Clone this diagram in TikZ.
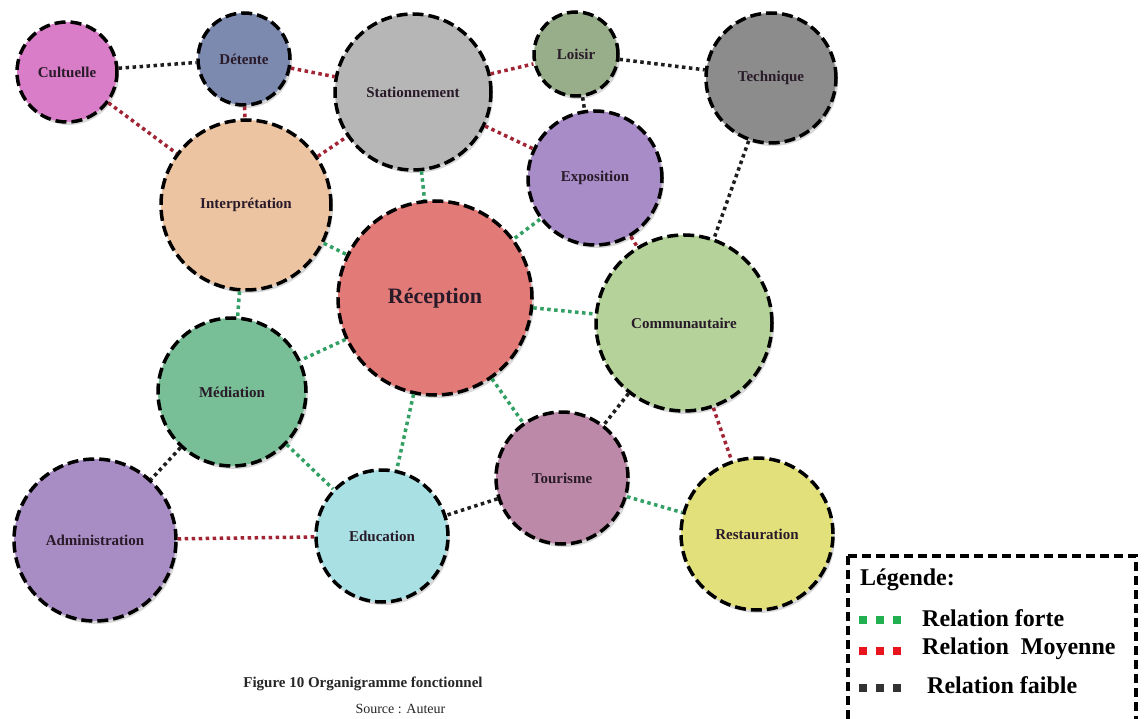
\documentclass[tikz,border=0pt]{standalone}
\usepackage{fontspec}
\setmainfont{Liberation Serif}
\usetikzlibrary{shadows}
\definecolor{cCult}{RGB}{218,125,200}
\definecolor{cDet}{RGB}{124,138,176}
\definecolor{cStat}{RGB}{182,182,182}
\definecolor{cLois}{RGB}{152,174,138}
\definecolor{cTech}{RGB}{140,140,140}
\definecolor{cExpo}{RGB}{168,140,200}
\definecolor{cInter}{RGB}{237,196,162}
\definecolor{cRecep}{RGB}{226,122,120}
\definecolor{cComm}{RGB}{180,210,154}
\definecolor{cMed}{RGB}{120,190,150}
\definecolor{cTour}{RGB}{188,138,168}
\definecolor{cRest}{RGB}{226,224,122}
\definecolor{cEdu}{RGB}{168,224,228}
\definecolor{cAdm}{RGB}{168,140,196}
\definecolor{lGreen}{RGB}{50,160,100}
\definecolor{lRed}{RGB}{160,36,52}
\definecolor{lBlack}{RGB}{30,30,30}
\definecolor{txt}{RGB}{40,26,40}
\definecolor{legGreen}{RGB}{34,176,80}
\definecolor{legRed}{RGB}{232,20,30}
\definecolor{legBlack}{RGB}{50,50,50}
\tikzset{
  bubble/.style={circle, draw=black, line width=3.5pt, dash pattern=on 11pt off 5pt,
    inner sep=0pt, text=txt, font=\bfseries\fontsize{15}{17}\selectfont,
    drop shadow={shadow xshift=2pt, shadow yshift=-3pt, opacity=0.3}},
  link/.style={line width=3.5pt, dash pattern=on 3.5pt off 3.5pt},
  strong/.style={link, draw=lGreen},
  medium/.style={link, draw=lRed},
  weak/.style={link, draw=lBlack},
  legtext/.style={anchor=west, font=\bfseries\fontsize{24}{26}\selectfont, text=black, inner sep=0pt},
  legsq/.style={minimum size=8pt, inner sep=0pt}
}
\begin{document}
\begin{tikzpicture}[x=1pt,y=-1pt]
\useasboundingbox[fill=white] (0,0) rectangle (1146,719);
% nodes
\node[bubble, fill=cCult,  minimum size=100pt] (cult) at (67,72) {Cultuelle};
\node[bubble, fill=cDet,   minimum size=92pt]  (det)  at (244,59) {Détente};
\node[bubble, fill=cStat,  minimum size=156pt] (stat) at (413,92) {Stationnement};
\node[bubble, fill=cLois,  minimum size=84pt]  (lois) at (576,54) {Loisir};
\node[bubble, fill=cTech,  minimum size=130pt] (tech) at (771,78) {Technique};
\node[bubble, fill=cExpo,  minimum size=134pt] (expo) at (595,178) {Exposition};
\node[bubble, fill=cInter, minimum size=170pt] (inter) at (246,205) {Interprétation};
\node[bubble, fill=cRecep, minimum size=194pt, font=\bfseries\fontsize{22}{24}\selectfont] (recep) at (435,298) {Réception};
\node[bubble, fill=cComm,  minimum size=176pt] (comm) at (684,323) {Communautaire};
\node[bubble, fill=cMed,   minimum size=148pt] (med)  at (232,392) {Médiation};
\node[bubble, fill=cTour,  minimum size=132pt] (tour) at (562,478) {Tourisme};
\node[bubble, fill=cRest,  minimum size=152pt] (rest) at (757,534) {Restauration};
\node[bubble, fill=cEdu,   minimum size=132pt] (edu)  at (382,536) {Education};
\node[bubble, fill=cAdm,   minimum size=162pt] (adm)  at (95,540) {Administration};
% connectors
\draw[weak]   (cult) -- (det);
\draw[medium] (cult) -- (inter);
\draw[medium] (det) -- (stat);
\draw[medium] (det) -- (inter);
\draw[medium] (inter) -- (stat);
\draw[medium] (stat) -- (lois);
\draw[medium] (stat) -- (expo);
\draw[strong] (stat) -- (recep);
\draw[weak]   (lois) -- (tech);
\draw[weak]   (lois) -- (expo);
\draw[weak]   (tech) -- (comm);
\draw[strong] (expo) -- (recep);
\draw[medium] (expo) -- (comm);
\draw[strong] (inter) -- (recep);
\draw[strong] (inter) -- (med);
\draw[strong] (recep) -- (comm);
\draw[strong] (recep) -- (med);
\draw[strong] (recep) -- (edu);
\draw[strong] (recep) -- (tour);
\draw[weak]   (comm) -- (tour);
\draw[medium] (comm) -- (rest);
\draw[strong] (tour) -- (rest);
\draw[weak]   (tour) -- (edu);
\draw[strong] (med) -- (edu);
\draw[weak]   (med) -- (adm);
\draw[medium] (adm) -- (edu);
% caption
\node[font=\bfseries\fontsize{15}{17}\selectfont, text=black!85] (cap) at (363,684) {Figure 10 Organigramme fonctionnel};
\node[anchor=base west, font=\fontsize{14}{16}\selectfont, text=black!85] (src) at (352,713) {Source : Auteur};
% legend
\draw[line width=3.5pt, dash pattern=on 9pt off 5pt] (848,556) -- (1136,556) -- (1136,740) (848,556) -- (848,740);
\node[legtext] (legt) at (860,580) {Légende:};
\foreach \c/\y/\n in {legGreen/620/a, legRed/651/b, legBlack/688/c}{
  \node[legsq, fill=\c] (sq\n1) at (863,\y) {};
  \node[legsq, fill=\c] (sq\n2) at (880,\y) {};
  \node[legsq, fill=\c] (sq\n3) at (897,\y) {};
}
\node[legtext] (lf) at (922,618) {Relation forte};
\node[legtext] (lm) at (922,649) {Relation\ \ Moyenne};
\node[legtext] (lw) at (927,685) {Relation faible};
\end{tikzpicture}
\end{document}
